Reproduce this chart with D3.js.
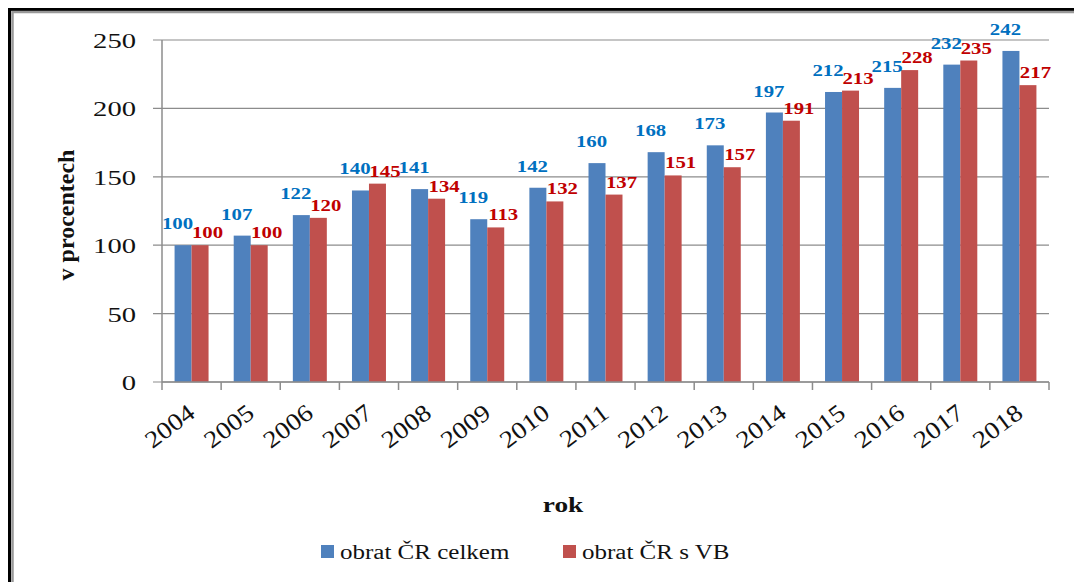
<!DOCTYPE html>
<html>
<head>
<meta charset="utf-8">
<script src="https://cdn.jsdelivr.net/npm/d3@7"></script>
<style>
  body { margin: 0; background: #fff; }
  svg { display: block; font-family: "Liberation Serif", "Times New Roman", serif; }
</style>
</head>
<body>
<div id="chart"></div>
<script>
const years = ["2004", "2005", "2006", "2007", "2008", "2009", "2010", "2011", "2012", "2013", "2014", "2015", "2016", "2017", "2018"];
const obratCelkem = [100, 107, 122, 140, 141, 119, 142, 160, 168, 173, 197, 212, 215, 232, 242];
const obratVB = [100, 100, 120, 145, 134, 113, 132, 137, 151, 157, 191, 213, 228, 235, 217];
const seriesNames = ["obrat ČR celkem", "obrat ČR s VB"];
const yTicks = [0, 50, 100, 150, 200, 250];

const width = 1074;
const height = 582;
const margin = { top: 40, left: 162 };
const innerWidth = 1049 - margin.left;
const innerHeight = 382 - margin.top;
const stretch = 1.3; // text in the picture is widened
const textColor = "#111";

const barColors = ["#4F81BD", "#C0504D"];
const labelColors = ["#0070C0", "#C00000"];

const svg = d3.select("#chart")
    .append("svg")
    .attr("width", width)
    .attr("height", height);

// widen a text by stretching its glyphs
function widen(sel, k) {
    sel.each(function () {
        const len = this.getComputedTextLength();
        d3.select(this)
            .attr("textLength", len * (k || stretch))
            .attr("lengthAdjust", "spacingAndGlyphs");
    });
}

// frame round the chart (only top and left edges are in view)
const frame = svg.append("g").attr("fill", "none");
frame.append("path")
    .attr("d", `M9.5,${height}V9.5H${width}`)
    .attr("stroke", "#000").attr("stroke-width", 3);
frame.append("path")
    .attr("d", `M12.5,${height}V12H${width}`)
    .attr("stroke", "#999").attr("stroke-width", 2.5);

const xScale = d3.scaleBand()
    .domain(years)
    .range([margin.left, margin.left + innerWidth])
    .padding(0);

const xInner = d3.scaleBand()
    .domain([0, 1])
    .range([0, xScale.bandwidth()])
    .paddingInner(0)
    .paddingOuter(0.74);

const yScale = d3.scaleLinear()
    .domain([0, 250])
    .range([margin.top + innerHeight, margin.top]);

const y0 = yScale(0);

// gridlines
svg.append("g")
    .selectAll("line")
    .data(yTicks)
    .join("line")
    .attr("x1", margin.left - 9)
    .attr("x2", margin.left + innerWidth)
    .attr("y1", d => yScale(d))
    .attr("y2", d => yScale(d))
    .attr("stroke", "#8c8c8c")
    .attr("stroke-width", 1.2);

// y axis
svg.append("line")
    .attr("x1", margin.left).attr("x2", margin.left)
    .attr("y1", margin.top).attr("y2", y0)
    .attr("stroke", "#8c8c8c").attr("stroke-width", 1.5);

svg.append("g")
    .selectAll("text")
    .data(yTicks)
    .join("text")
    .attr("text-anchor", "end")
    .attr("font-size", 22)
    .attr("fill", textColor)
    .attr("x", margin.left - 26)
    .attr("y", d => yScale(d) + 8)
    .text(d => d)
    .call(widen);

// bars
const data = years.map((yr, i) => ({ year: yr, values: [obratCelkem[i], obratVB[i]] }));

const groups = svg.append("g")
    .selectAll("g")
    .data(data)
    .join("g");

groups.selectAll("rect")
    .data(d => d.values.map((v, s) => ({ year: d.year, s, v })))
    .join("rect")
    .attr("x", d => xScale(d.year) + xInner(d.s))
    .attr("width", xInner.bandwidth())
    .attr("y", d => yScale(d.v))
    .attr("height", d => y0 - yScale(d.v))
    .attr("fill", d => barColors[d.s]);

// value labels
const labelDx = [-14, 16];
const labelDy = [-16, -7];
groups.selectAll("text")
    .data(d => d.values.map((v, s) => ({ year: d.year, s, v })))
    .join("text")
    .attr("text-anchor", "middle")
    .attr("font-size", 16)
    .attr("font-weight", "bold")
    .attr("fill", d => labelColors[d.s])
    .attr("x", d => xScale(d.year) + xScale.bandwidth() / 2 + labelDx[d.s])
    .attr("y", d => yScale(d.v) + labelDy[d.s])
    .text(d => d.v)
    .call(widen);

// x axis
svg.append("line")
    .attr("x1", margin.left).attr("x2", margin.left + innerWidth)
    .attr("y1", y0).attr("y2", y0)
    .attr("stroke", "#8c8c8c").attr("stroke-width", 1.5);

svg.append("g")
    .selectAll("line")
    .data(d3.range(years.length + 1))
    .join("line")
    .attr("x1", i => margin.left + i * xScale.step())
    .attr("x2", i => margin.left + i * xScale.step())
    .attr("y1", y0)
    .attr("y2", y0 + 8)
    .attr("stroke", "#8c8c8c")
    .attr("stroke-width", 1.5);

const xLabelX = d => xScale(d) + xScale.bandwidth() / 2 + 5;
const xLabelY = y0 + 34;
svg.append("g")
    .selectAll("text")
    .data(years)
    .join("text")
    .attr("text-anchor", "end")
    .attr("font-size", 24)
    .attr("fill", textColor)
    .attr("x", xLabelX)
    .attr("y", xLabelY)
    .attr("transform", d => `rotate(-37, ${xLabelX(d)}, ${xLabelY})`)
    .text(d => d)
    .call(widen, 1.15);

// axis titles
svg.append("text")
    .attr("text-anchor", "middle")
    .attr("font-size", 24)
    .attr("font-weight", "bold")
    .attr("fill", textColor)
    .attr("x", 74)
    .attr("y", 215)
    .attr("transform", "rotate(-90, 74, 215)")
    .text("v procentech");

svg.append("text")
    .attr("text-anchor", "middle")
    .attr("font-size", 21)
    .attr("font-weight", "bold")
    .attr("fill", textColor)
    .attr("x", 563)
    .attr("y", 512)
    .text("rok")
    .call(widen);

// legend
const legendX = [321, 563];
const legend = svg.append("g")
    .selectAll("g")
    .data(seriesNames)
    .join("g");

legend.append("rect")
    .attr("x", (d, i) => legendX[i])
    .attr("y", 545)
    .attr("width", 13)
    .attr("height", 13)
    .attr("fill", (d, i) => barColors[i]);

legend.append("text")
    .attr("font-size", 20)
    .attr("fill", textColor)
    .attr("x", (d, i) => legendX[i] + 19)
    .attr("y", 559)
    .text(d => d)
    .call(widen, 1.25);
</script>
</body>
</html>
